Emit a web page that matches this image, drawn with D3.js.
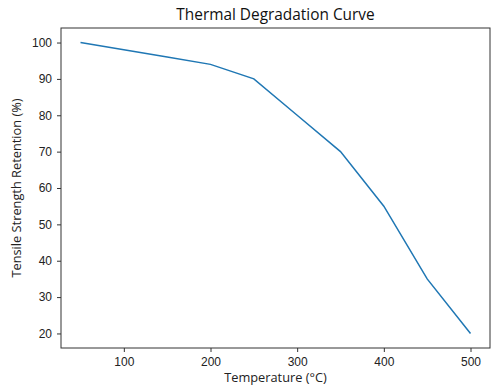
<!DOCTYPE html>
<html>
<head>
<meta charset="utf-8">
<script src="https://cdn.jsdelivr.net/npm/d3@7"></script>
<style>
  body { margin: 0; background: #fff; }
  svg { display: block; font-family: "Open Sans", sans-serif; }
  .tick text { fill: #222; font-size: 12px; }
  .tick line { stroke: #333; }
</style>
</head>
<body>
<svg width="501" height="388"></svg>
<script>
// data
const temperatures = [50, 100, 150, 200, 250, 300, 350, 400, 450, 500];
const retention = [100, 98, 96, 94, 90, 80, 70, 55, 35, 20];
const xTicks = [100, 200, 300, 400, 500];
const yTicks = [20, 30, 40, 50, 60, 70, 80, 90, 100];

const svg = d3.select('svg');
const m = { left: 61, right: 490, top: 28, bottom: 348 };

const x = d3.scaleLinear().domain([27.5, 522.5]).range([m.left, m.right]);
const y = d3.scaleLinear().domain([16, 104]).range([m.bottom, m.top]);

svg.append('g')
    .attr('transform', `translate(0,${m.bottom})`)
    .call(d3.axisBottom(x).tickValues(xTicks).tickSize(4).tickPadding(5))
    .call(g => g.select('.domain').remove());

svg.append('g')
    .attr('transform', `translate(${m.left},0)`)
    .call(d3.axisLeft(y).tickValues(yTicks).tickSize(4).tickPadding(5))
    .call(g => g.select('.domain').remove());

const points = temperatures.map((t, i) => [t, retention[i]]);

svg.append('path')
    .datum(points)
    .attr('fill', 'none')
    .attr('stroke', '#1f77b4')
    .attr('stroke-width', 1.5)
    .attr('d', d3.line().x(d => x(d[0])).y(d => y(d[1])));

svg.append('rect')
    .attr('x', m.left).attr('y', m.top)
    .attr('width', m.right - m.left).attr('height', m.bottom - m.top)
    .attr('fill', 'none')
    .attr('stroke', '#333')
    .attr('stroke-width', 1);

svg.append('text')
    .attr('x', (m.left + m.right) / 2).attr('y', 20)
    .attr('text-anchor', 'middle')
    .style('font-size', '15.4px')
    .attr('fill', '#111')
    .text('Thermal Degradation Curve');

svg.append('text')
    .attr('x', (m.left + m.right) / 2).attr('y', 382)
    .attr('text-anchor', 'middle')
    .style('font-size', '12.8px')
    .attr('fill', '#222')
    .text('Temperature (°C)');

svg.append('text')
    .attr('transform', `translate(21,${(m.top + m.bottom) / 2}) rotate(-90)`)
    .attr('text-anchor', 'middle')
    .style('font-size', '12.8px')
    .attr('fill', '#222')
    .text('Tensile Strength Retention (%)');
</script>
</body>
</html>
